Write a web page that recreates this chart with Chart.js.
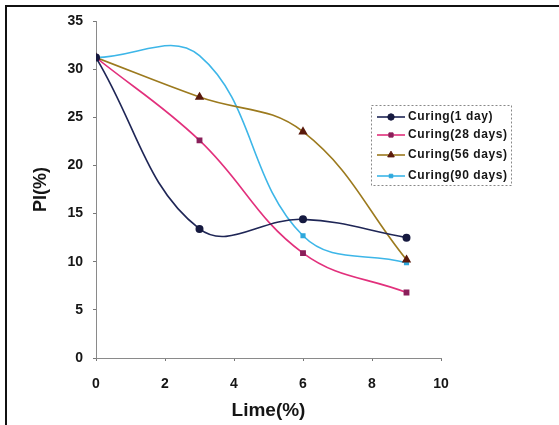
<!DOCTYPE html>
<html>
<head>
<meta charset="utf-8">
<script src="https://cdn.jsdelivr.net/npm/chart.js@4/dist/chart.umd.min.js"></script>
<style>
  body { margin: 0; background: #fff; }
  #wrap { position: relative; width: 559px; height: 425px; }
  #frame {
    position: absolute; left: 5px; top: 5px; right: 0; bottom: 0;
    border-top: 2px solid #111; border-left: 2px solid #111;
    pointer-events: none;
  }
</style>
</head>
<body>
<div id="wrap">
  <canvas id="plChart" width="559" height="425"></canvas>
  <div id="frame"></div>
</div>
<script>
// values
const lime = [0, 3, 6, 9];
const cure1 = [31.2, 13.4, 14.4, 12.5];
const cure28 = [31.2, 22.6, 10.9, 6.8];
const cure56 = [31.2, 27.1, 23.5, 10.2];
const cure90 = [31.2, 31.4, 12.7, 9.9];

const xTicks = [0, 2, 4, 6, 8, 10];
const yTicks = [0, 5, 10, 15, 20, 25, 30, 35];

const FONT = "'Liberation Sans', Arial, sans-serif";

function pts(ys) {
  return lime.map((x, i) => ({ x: x, y: ys[i] }));
}

function series(label, ys, color, markColor, style, r) {
  return {
    label: label,
    data: pts(ys),
    borderColor: color,
    backgroundColor: markColor,
    pointBorderColor: markColor,
    pointBackgroundColor: markColor,
    pointStyle: style,
    pointRadius: r,
    borderWidth: 1.6,
    tension: 0.4,
    fill: false,
  };
}

// legend drawn inside the plot, dashed box like the original
const boxLegend = {
  id: "boxLegend",
  afterDraw(chart) {
    const ctx = chart.ctx;
    const x0 = 371, y0 = 105, w = 140, h = 80;
    ctx.save();
    ctx.strokeStyle = "#888";
    ctx.lineWidth = 1;
    ctx.setLineDash([2, 2]);
    ctx.strokeRect(x0 + 0.5, y0 + 0.5, w, h);
    ctx.setLineDash([]);
    const rows = [117, 135, 155, 176];
    chart.data.datasets.forEach((ds, i) => {
      const y = rows[i];
      const r = Array.isArray(ds.pointRadius) ? ds.pointRadius[0] : ds.pointRadius;
      ctx.strokeStyle = ds.borderColor;
      ctx.lineWidth = 1.6;
      ctx.beginPath();
      ctx.moveTo(377, y);
      ctx.lineTo(405, y);
      ctx.stroke();
      ctx.fillStyle = ds.pointBackgroundColor;
      ctx.strokeStyle = ds.pointBorderColor;
      ctx.lineWidth = 1;
      Chart.helpers.drawPoint(ctx, {
        pointStyle: ds.pointStyle,
        radius: r,
        borderWidth: 1,
      }, 391, y);
      ctx.fillStyle = "#151515";
      ctx.font = "bold 12px " + FONT;
      ctx.letterSpacing = "0.6px";
      ctx.textBaseline = "middle";
      ctx.fillText(ds.label, 408, y);
    });
    ctx.restore();
  },
};

const axisBorder = { color: "#8a8a8a", width: 1, dash: [2, 2] };

const ds90 = series("Curing(90 days)", cure90, "#3db6e8", "#2fa8dc", "rect", 2.5);
ds90.pointRadius = [2.5, 0, 2.5, 2.5]; // no marker visible at 3 % in the original

new Chart(document.getElementById("plChart").getContext("2d"), {
  type: "line",
  data: {
    datasets: [
      series("Curing(1 day)", cure1, "#1f2656", "#161a40", "circle", 3.2),
      series("Curing(28 days)", cure28, "#e2307c", "#8a1f5a", "rect", 3),
      series("Curing(56 days)", cure56, "#9c7a1e", "#5a1a0c", "triangle", 3.8),
      ds90,
    ],
  },
  options: {
    responsive: false,
    animation: false,
    layout: { padding: { left: 26, top: 21, right: 118, bottom: 0 } },
    plugins: {
      legend: { display: false },
      tooltip: { enabled: false },
    },
    scales: {
      x: {
        type: "linear",
        min: 0,
        max: 10,
        afterFit(s) { s.height = 67; },
        afterBuildTicks(s) { s.ticks = xTicks.map(v => ({ value: v })); },
        grid: { drawOnChartArea: false, tickLength: 3, tickColor: "#777" },
        border: axisBorder,
        ticks: {
          padding: 15,
          color: "#151515",
          font: { family: FONT, size: 14, weight: "bold" },
        },
        title: {
          display: true,
          text: "Lime(%)",
          color: "#151515",
          padding: { top: 4, bottom: 3 },
          font: { family: FONT, size: 19, weight: "bold" },
        },
      },
      y: {
        min: 0,
        max: 35,
        afterFit(s) { s.width = 70; },
        afterBuildTicks(s) { s.ticks = yTicks.map(v => ({ value: v })); },
        grid: { drawOnChartArea: false, tickLength: 3, tickColor: "#777" },
        border: axisBorder,
        ticks: {
          padding: 10,
          color: "#151515",
          font: { family: FONT, size: 14, weight: "bold" },
        },
        title: {
          display: true,
          text: "PI(%)",
          color: "#151515",
          font: { family: FONT, size: 18, weight: "bold" },
        },
      },
    },
  },
  plugins: [boxLegend],
});
</script>
</body>
</html>
